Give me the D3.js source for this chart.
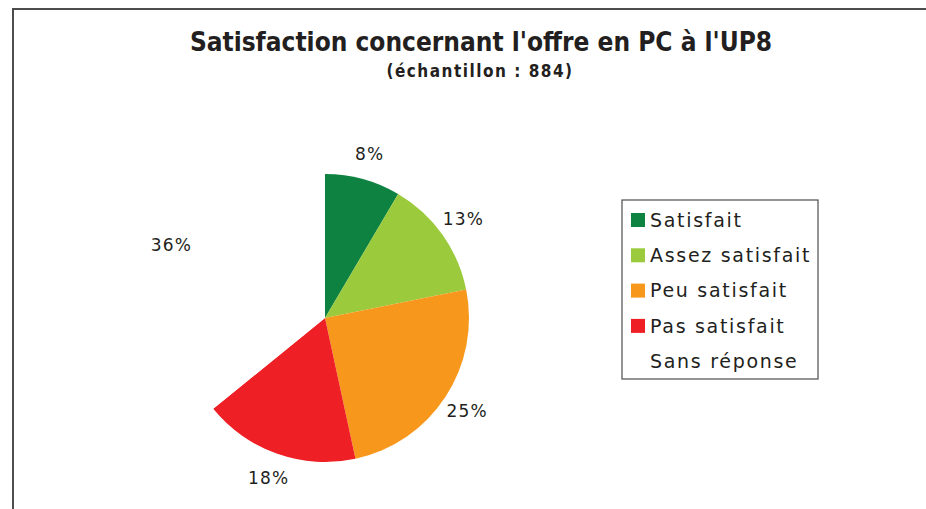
<!DOCTYPE html>
<html>
<head>
<meta charset="utf-8">
<script src="https://cdn.jsdelivr.net/npm/d3@7"></script>
<style>
  body { margin: 0; background: #fff; }
  svg text { fill: #231f20; }
</style>
</head>
<body>
<div id="body"></div>
<script>
// reponses (sur 884)
var categories = ["Satisfait", "Assez satisfait", "Peu satisfait", "Pas satisfait", "Sans réponse"];
var counts = [75, 118, 219, 155, 317];
var colors = ["#0e8241", "#9bca3c", "#f7981d", "#ee1f25", "#ffffff"];
var total = 884;

var width = 926, height = 509;
var svg = d3.select("#body").append("svg")
    .attr("width", width)
    .attr("height", height);

// cadre
svg.append("rect")
    .attr("x", 13).attr("y", 9)
    .attr("width", 940).attr("height", 540)
    .attr("fill", "none")
    .attr("stroke", "#4d4d4d")
    .attr("stroke-width", 2);

// titre
svg.append("text")
    .attr("x", 481).attr("y", 51)
    .attr("text-anchor", "middle")
    .attr("font-family", "'DejaVu Sans Condensed', 'DejaVu Sans'")
    .attr("font-weight", "bold")
    .attr("font-size", 26)
    .text("Satisfaction concernant l'offre en PC à l'UP8");

svg.append("text")
    .attr("x", 480).attr("y", 77)
    .attr("text-anchor", "middle")
    .attr("font-family", "'DejaVu Sans Condensed', 'DejaVu Sans'")
    .attr("font-weight", "bold")
    .attr("font-size", 17)
    .attr("letter-spacing", 1.5)
    .text("(échantillon : 884)");

// camembert
var cx = 325, cy = 318, r = 144;
var pie = d3.pie().sort(null).value(function(d){ return d; });
var arcs = pie(counts);
var arc = d3.arc().innerRadius(0).outerRadius(r);
var labelArc = d3.arc().innerRadius(170).outerRadius(170);

var g = svg.append("g").attr("transform", "translate(" + cx + "," + cy + ")");

g.selectAll("path")
    .data(arcs)
    .enter().append("path")
    .attr("d", arc)
    .attr("fill", function(d, i){ return colors[i]; });

g.selectAll("text.lbl")
    .data(arcs)
    .enter().append("text")
    .attr("class", "lbl")
    .attr("transform", function(d){ return "translate(" + labelArc.centroid(d) + ")"; })
    .attr("text-anchor", "middle")
    .attr("dy", "0.35em")
    .attr("font-family", "'DejaVu Sans'")
    .attr("font-size", 17)
    .attr("letter-spacing", 1.2)
    .text(function(d){ return Math.round(d.data / total * 100) + "%"; });

// legende
var legend = svg.append("g").attr("transform", "translate(622,200)");
legend.append("rect")
    .attr("x", 0).attr("y", 0)
    .attr("width", 196).attr("height", 179)
    .attr("fill", "none")
    .attr("stroke", "#4d4d4d")
    .attr("stroke-width", 1.2);

var items = legend.selectAll("g.item")
    .data(categories)
    .enter().append("g")
    .attr("class", "item")
    .attr("transform", function(d, i){ return "translate(0," + (20 + i * 35.3) + ")"; });

items.append("rect")
    .attr("x", 9).attr("y", -7)
    .attr("width", 14).attr("height", 14)
    .attr("fill", function(d, i){ return colors[i]; });

items.append("text")
    .attr("x", 28).attr("y", 0)
    .attr("dy", "0.36em")
    .attr("font-family", "'DejaVu Sans'")
    .attr("font-size", 19)
    .attr("letter-spacing", 1.7)
    .text(function(d){ return d; });
</script>
</body>
</html>
